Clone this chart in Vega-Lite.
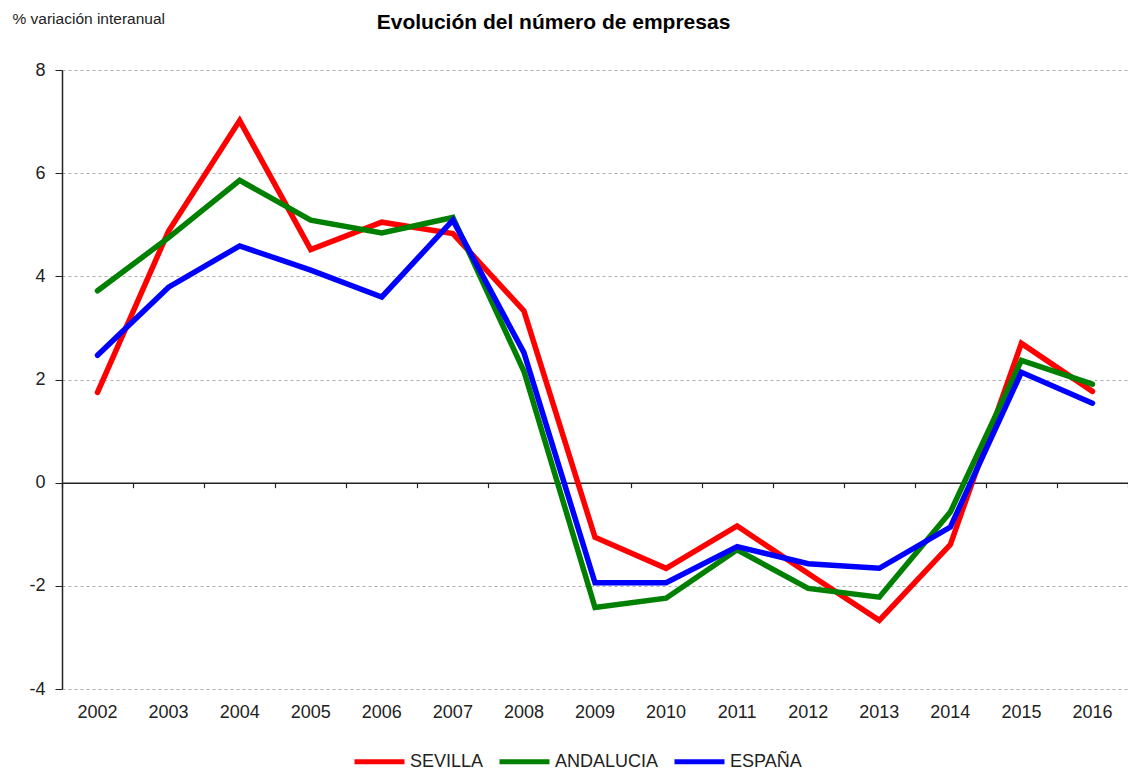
{
  "$schema": "https://vega.github.io/schema/vega-lite/v6.json",
  "autosize": {"type": "none"},
  "width": 1066,
  "height": 619,
  "padding": {"left": 62, "top": 70, "right": 0, "bottom": 81},
  "background": "white",
  "config": {
    "view": {"stroke": null},
    "font": "Liberation Sans",
    "axis": {"labelFont": "Liberation Sans", "titleFont": "Liberation Sans"},
    "legend": {"labelFont": "Liberation Sans"}
  },
  "data": {
    "values": [
      {"year": "2002", "serie": "SEVILLA", "v": 1.75},
      {"year": "2003", "serie": "SEVILLA", "v": 4.88},
      {"year": "2004", "serie": "SEVILLA", "v": 7.02},
      {"year": "2005", "serie": "SEVILLA", "v": 4.52},
      {"year": "2006", "serie": "SEVILLA", "v": 5.05},
      {"year": "2007", "serie": "SEVILLA", "v": 4.83},
      {"year": "2008", "serie": "SEVILLA", "v": 3.33},
      {"year": "2009", "serie": "SEVILLA", "v": -1.06},
      {"year": "2010", "serie": "SEVILLA", "v": -1.66},
      {"year": "2011", "serie": "SEVILLA", "v": -0.84},
      {"year": "2012", "serie": "SEVILLA", "v": -1.76},
      {"year": "2013", "serie": "SEVILLA", "v": -2.67},
      {"year": "2014", "serie": "SEVILLA", "v": -1.2},
      {"year": "2015", "serie": "SEVILLA", "v": 2.7},
      {"year": "2016", "serie": "SEVILLA", "v": 1.77},
      {"year": "2002", "serie": "ANDALUCIA", "v": 3.72},
      {"year": "2003", "serie": "ANDALUCIA", "v": 4.75},
      {"year": "2004", "serie": "ANDALUCIA", "v": 5.86},
      {"year": "2005", "serie": "ANDALUCIA", "v": 5.09},
      {"year": "2006", "serie": "ANDALUCIA", "v": 4.84},
      {"year": "2007", "serie": "ANDALUCIA", "v": 5.14},
      {"year": "2008", "serie": "ANDALUCIA", "v": 2.16},
      {"year": "2009", "serie": "ANDALUCIA", "v": -2.42},
      {"year": "2010", "serie": "ANDALUCIA", "v": -2.24},
      {"year": "2011", "serie": "ANDALUCIA", "v": -1.3},
      {"year": "2012", "serie": "ANDALUCIA", "v": -2.05},
      {"year": "2013", "serie": "ANDALUCIA", "v": -2.22},
      {"year": "2014", "serie": "ANDALUCIA", "v": -0.57},
      {"year": "2015", "serie": "ANDALUCIA", "v": 2.37},
      {"year": "2016", "serie": "ANDALUCIA", "v": 1.91},
      {"year": "2002", "serie": "ESPAÑA", "v": 2.47},
      {"year": "2003", "serie": "ESPAÑA", "v": 3.79},
      {"year": "2004", "serie": "ESPAÑA", "v": 4.59},
      {"year": "2005", "serie": "ESPAÑA", "v": 4.12},
      {"year": "2006", "serie": "ESPAÑA", "v": 3.6},
      {"year": "2007", "serie": "ESPAÑA", "v": 5.09},
      {"year": "2008", "serie": "ESPAÑA", "v": 2.52},
      {"year": "2009", "serie": "ESPAÑA", "v": -1.94},
      {"year": "2010", "serie": "ESPAÑA", "v": -1.94},
      {"year": "2011", "serie": "ESPAÑA", "v": -1.24},
      {"year": "2012", "serie": "ESPAÑA", "v": -1.57},
      {"year": "2013", "serie": "ESPAÑA", "v": -1.66},
      {"year": "2014", "serie": "ESPAÑA", "v": -0.86},
      {"year": "2015", "serie": "ESPAÑA", "v": 2.14},
      {"year": "2016", "serie": "ESPAÑA", "v": 1.54}
    ]
  },
  "layer": [
    {
      "mark": {"type": "point", "opacity": 0},
      "encoding": {
        "x": {
          "field": "year", "type": "ordinal",
          "scale": {"type": "band", "paddingInner": 0, "paddingOuter": 0},
          "axis": {
            "orient": "top",
            "offset": -412.67,
            "labels": false,
            "grid": false,
            "ticks": true,
            "tickBand": "extent",
            "tickSize": -5,
            "tickColor": "#222",
            "tickWidth": 1.2,
            "domain": true,
            "domainColor": "#222",
            "domainWidth": 1.5,
            "title": "Evolución del número de empresas",
            "titleFontSize": 21,
            "titleFontWeight": "bold",
            "titleColor": "#000",
            "titleX": 491,
            "titleY": -454,
            "titleAlign": "center",
            "titleAnchor": null,
            "titleBaseline": "alphabetic"
          }
        },
        "y": {"datum": 0, "type": "quantitative"}
      }
    },
    {
      "mark": {"type": "line", "strokeWidth": 5.5, "strokeJoin": "miter", "strokeCap": "round"},
      "encoding": {
        "x": {
          "field": "year", "type": "ordinal",
          "axis": {
            "orient": "bottom",
            "title": null,
            "labelAngle": 0,
            "labelFontSize": 18,
            "labelColor": "#222",
            "labelPadding": 14,
            "ticks": false,
            "domain": false,
            "grid": false
          }
        },
        "y": {
          "field": "v", "type": "quantitative",
          "scale": {"domain": [-4, 8], "nice": false, "zero": false},
          "axis": {
            "values": [-4, -2, 0, 2, 4, 6, 8],
            "labelExpr": "datum.value < 0 ? '-' + abs(datum.value) : '' + datum.value",
            "title": "% variación interanual",
            "titleFontSize": 15.5,
            "titleFontWeight": "normal",
            "titleColor": "#222",
            "titleAngle": 0,
            "titleAlign": "left",
            "titleAnchor": null,
            "titleBaseline": "alphabetic",
            "titleX": -50,
            "titleY": -47,
            "labelFontSize": 18,
            "labelColor": "#222",
            "labelPadding": 10,
            "tickSize": 7,
            "tickColor": "#222",
            "domainColor": "#222",
            "domainWidth": 1.5,
            "grid": true,
            "gridColor": "#b0b0b0",
            "gridDash": [3, 3],
            "gridWidth": 1
          }
        },
        "color": {
          "field": "serie", "type": "nominal",
          "scale": {"domain": ["SEVILLA", "ANDALUCIA", "ESPAÑA"], "range": ["#ff0000", "#008000", "#0000ff"]},
          "legend": {
            "orient": "none",
            "legendX": 290,
            "legendY": 664,
            "direction": "horizontal",
            "title": null,
            "symbolType": "stroke",
            "symbolSize": 2500,
            "symbolStrokeWidth": 5,
            "labelFontSize": 18,
            "labelColor": "#222",
            "labelOffset": 3,
            "columnPadding": 5
          }
        }
      }
    }
  ],
  "resolve": {"axis": {"x": "independent"}}
}
